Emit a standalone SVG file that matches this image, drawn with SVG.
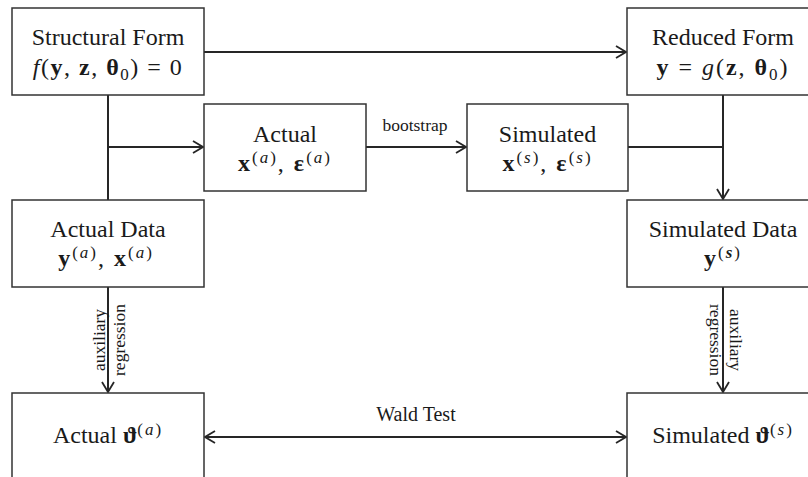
<svg xmlns="http://www.w3.org/2000/svg" width="808" height="477" viewBox="0 0 808 477">
<style>
.box{fill:#fff;stroke:#333;stroke-width:1.5}
.t{font-family:"Liberation Serif","Times New Roman",serif;font-size:24px;fill:#1a1a1a;text-anchor:middle}
.sm{font-size:17.5px}
.wl{font-size:20px}
.m{letter-spacing:2px}
.m1{letter-spacing:1.5px}
.b{font-weight:bold}
.i{font-style:italic}
.sup{font-size:17px}
.edge{stroke:#262626;stroke-width:2;fill:none}
</style>
<defs>
<marker id="arr" viewBox="0 0 12 14" refX="11" refY="7" markerWidth="12" markerHeight="14" markerUnits="userSpaceOnUse" orient="auto-start-reverse">
<path d="M1,1 L11,7 L1,13" fill="none" stroke="#262626" stroke-width="1.8"/>
</marker>
</defs>
<rect width="808" height="477" fill="#fff"/>
<g id="connectors">
<path class="edge" d="M204,52 H626" marker-end="url(#arr)"/>
<path class="edge" d="M108,95 V200"/>
<path class="edge" d="M108,147 H203" marker-end="url(#arr)"/>
<path class="edge" d="M366,147 H466" marker-end="url(#arr)"/>
<path class="edge" d="M628,147 H723"/>
<path class="edge" d="M723,95 V199" marker-end="url(#arr)"/>
<path class="edge" d="M108,287 V392" marker-end="url(#arr)"/>
<path class="edge" d="M723,287 V392" marker-end="url(#arr)"/>
<path class="edge" d="M205,437 H626" marker-start="url(#arr)" marker-end="url(#arr)"/>
<text class="t sm" x="415" y="131">bootstrap</text>
<text class="t wl" x="416" y="421">Wald Test</text>
<text class="t sm" transform="translate(105,340) rotate(-90)"><tspan x="0" y="0">auxiliary</tspan><tspan x="0" y="20">regression</tspan></text>
<text class="t sm" transform="translate(730,340) rotate(90)"><tspan x="0" y="0">auxiliary</tspan><tspan x="0" y="20">regression</tspan></text>
</g>
<g id="structural">
<rect class="box" x="12" y="8" width="192" height="87"/>
<text class="t" x="108" y="45">Structural Form</text>
<text class="t m1" x="108" y="75"><tspan class="i">f</tspan>(<tspan class="b">y</tspan>, <tspan class="b">z</tspan>, <tspan class="b">θ</tspan><tspan class="sup" dy="5">0</tspan><tspan dy="-5">) = 0</tspan></text>
</g>
<g id="reduced">
<rect class="box" x="627" y="8" width="192" height="87"/>
<text class="t" x="723" y="45">Reduced Form</text>
<text class="t m" x="723" y="75"><tspan class="b">y</tspan> = <tspan class="i">g</tspan>(<tspan class="b">z</tspan>, <tspan class="b">θ</tspan><tspan class="sup" dy="5">0</tspan><tspan dy="-5">)</tspan></text>
</g>
<g id="actual">
<rect class="box" x="204" y="104" width="162" height="87"/>
<text class="t" x="285" y="142">Actual</text>
<text class="t m" x="285" y="171"><tspan class="b">x</tspan><tspan class="sup" dy="-8">(<tspan class="i">a</tspan>)</tspan><tspan dy="8">, </tspan><tspan class="b">ε</tspan><tspan class="sup" dy="-8">(<tspan class="i">a</tspan>)</tspan></text>
</g>
<g id="simulated">
<rect class="box" x="467" y="104" width="161" height="87"/>
<text class="t" x="547.5" y="142">Simulated</text>
<text class="t m" x="547.5" y="171"><tspan class="b">x</tspan><tspan class="sup" dy="-8">(<tspan class="i">s</tspan>)</tspan><tspan dy="8">, </tspan><tspan class="b">ε</tspan><tspan class="sup" dy="-8">(<tspan class="i">s</tspan>)</tspan></text>
</g>
<g id="actual-data">
<rect class="box" x="12" y="200" width="192" height="87"/>
<text class="t" x="108" y="237">Actual Data</text>
<text class="t m" x="106" y="266"><tspan class="b">y</tspan><tspan class="sup" dy="-8">(<tspan class="i">a</tspan>)</tspan><tspan dy="8">, </tspan><tspan class="b">x</tspan><tspan class="sup" dy="-8">(<tspan class="i">a</tspan>)</tspan></text>
</g>
<g id="simulated-data">
<rect class="box" x="627" y="200" width="192" height="87"/>
<text class="t" x="723" y="237">Simulated Data</text>
<text class="t m" x="723" y="266"><tspan class="b">y</tspan><tspan class="sup" dy="-8">(<tspan class="b i">s</tspan>)</tspan></text>
</g>
<g id="actual-theta">
<rect class="box" x="12" y="393" width="192" height="100"/>
<text class="t" x="108" y="443">Actual <tspan class="b">ϑ</tspan><tspan class="sup m" dy="-8">(<tspan class="i">a</tspan>)</tspan></text>
</g>
<g id="simulated-theta">
<rect class="box" x="627" y="393" width="192" height="100"/>
<text class="t" x="723" y="443">Simulated <tspan class="b">ϑ</tspan><tspan class="sup m" dy="-8">(<tspan class="i">s</tspan>)</tspan></text>
</g>
</svg>
